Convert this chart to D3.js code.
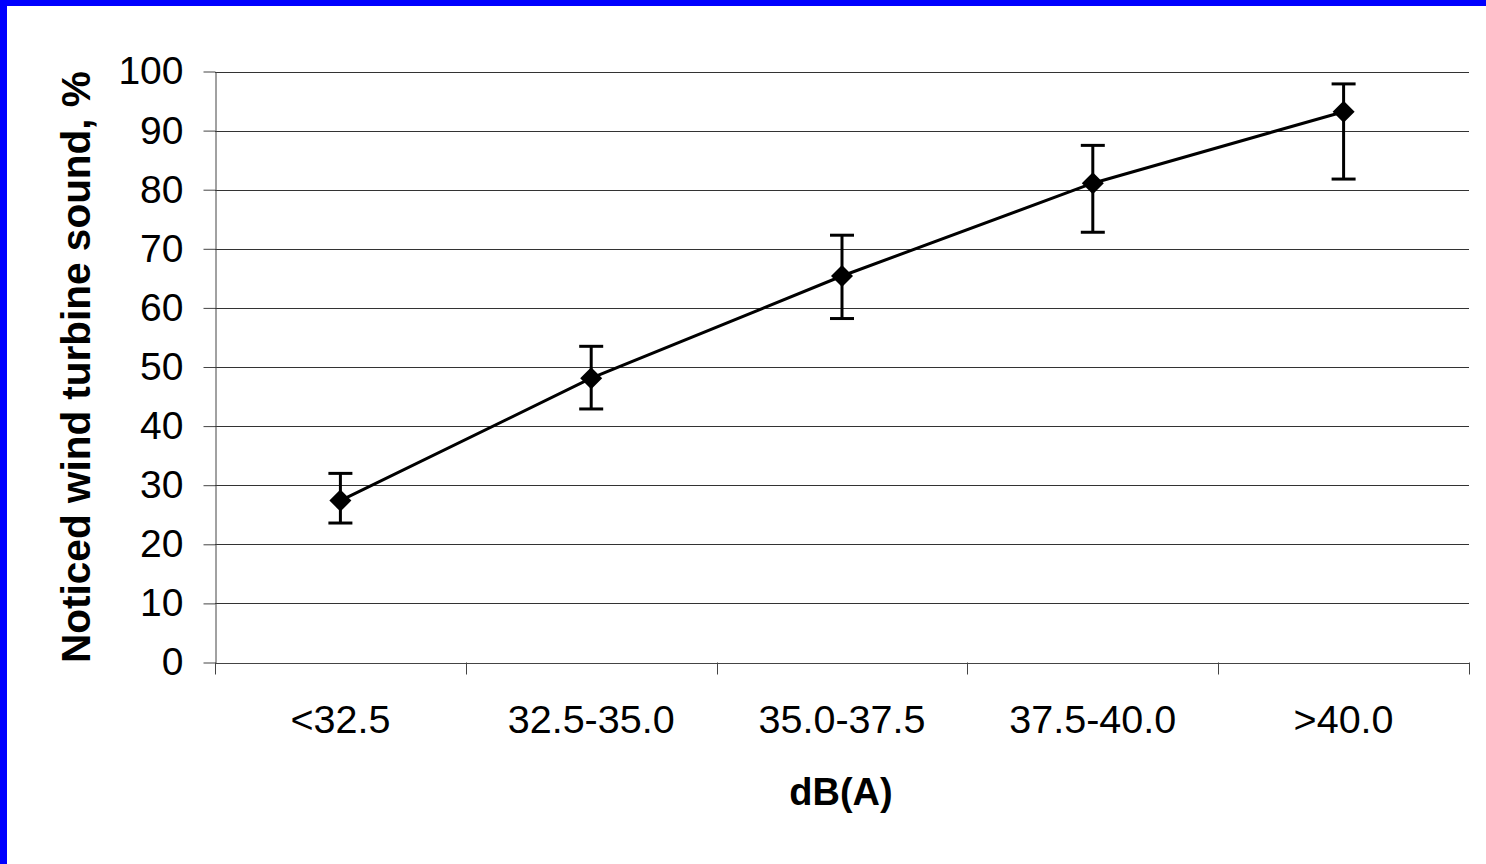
<!DOCTYPE html>
<html lang='en'>
	<head>
		<title>Noticed wind turbine sound</title>
		<script type='text/javascript' src='https://cdn.jsdelivr.net/npm/d3@7'></script>
		<style>
			body { margin: 0; background: #fff; }
			svg text { font-family: 'Liberation Sans', Arial, sans-serif; fill: #000; }
		</style>
	</head>
	<body>
		<svg id='svg' width='1486' height='864'></svg>
		<script type='text/javascript'>
			// data
			var categories = ['<32.5', '32.5-35.0', '35.0-37.5', '37.5-40.0', '>40.0'];
			var noticed = [27.4, 48.1, 65.4, 81.1, 93.2];
			var errHigh = [32.0, 53.5, 72.3, 87.5, 97.9];
			var errLow = [23.6, 42.9, 58.2, 72.8, 81.8];
			var yTicks = [0, 10, 20, 30, 40, 50, 60, 70, 80, 90, 100];

			{
				var svg = d3.select('#svg');

				// blue frame on left and top
				svg.append('rect').attr('x', 0).attr('y', 0).attr('width', 1486).attr('height', 864).attr('fill', '#fff');
				svg.append('rect').attr('x', 0).attr('y', 0).attr('width', 7).attr('height', 864).attr('fill', '#0000ff');
				svg.append('rect').attr('x', 0).attr('y', 0).attr('width', 1486).attr('height', 6).attr('fill', '#0000ff');

				var plotLeft = 215, plotRight = 1469, plotTop = 71.5, plotBottom = 662.5;
				var x = d3.scaleBand().domain(categories).range([plotLeft, plotRight]);
				var y = d3.scaleLinear().domain([0, 100]).range([plotBottom, plotTop]);

				// gridlines
				svg.append('g').selectAll('line').data(yTicks.slice(1)).enter().append('line')
					.attr('x1', plotLeft).attr('x2', plotRight)
					.attr('y1', d => Math.round(y(d)) + 0.5).attr('y2', d => Math.round(y(d)) + 0.5)
					.attr('stroke', '#333').attr('stroke-width', 1);

				// y axis
				var yAxis = svg.append('g').attr('transform', 'translate(' + (plotLeft + 0.5) + ',0)')
					.call(d3.axisLeft(y).tickValues(yTicks).tickSize(12).tickPadding(20).tickSizeOuter(0));
				yAxis.selectAll('path, line').attr('stroke', '#444');
				yAxis.selectAll('text').attr('font-size', 39).attr('font-family', "'Liberation Sans', Arial, sans-serif").attr('fill', '#000');

				// x axis line and boundary ticks
				var bounds = categories.map(d => x(d)).concat([plotRight]);
				svg.append('line').attr('x1', plotLeft).attr('x2', plotRight)
					.attr('y1', Math.round(plotBottom) + 0.5).attr('y2', Math.round(plotBottom) + 0.5)
					.attr('stroke', '#444');
				svg.append('g').selectAll('line').data(bounds).enter().append('line')
					.attr('x1', d => Math.round(d) + 0.5).attr('x2', d => Math.round(d) + 0.5)
					.attr('y1', plotBottom).attr('y2', plotBottom + 12)
					.attr('stroke', '#444');
				svg.append('g').selectAll('text').data(categories).enter().append('text')
					.attr('x', d => x(d) + x.bandwidth() / 2).attr('y', 733)
					.attr('text-anchor', 'middle').attr('font-size', 39.5)
					.text(d => d);

				// axis titles
				svg.append('text').attr('x', 841).attr('y', 805)
					.attr('text-anchor', 'middle').attr('font-size', 38).attr('font-weight', 'bold')
					.text('dB(A)');
				svg.append('text').attr('transform', 'translate(90,' + ((plotTop + plotBottom) / 2) + ') rotate(-90)')
					.attr('text-anchor', 'middle').attr('font-size', 40.5).attr('font-weight', 'bold')
					.text('Noticed wind turbine sound, %');

				var cx = (d, i) => x(categories[i]) + x.bandwidth() / 2;

				// error bars
				var eb = svg.append('g').selectAll('g').data(noticed).enter().append('g');
				eb.append('line').attr('x1', cx).attr('x2', cx)
					.attr('y1', (d, i) => y(errHigh[i])).attr('y2', (d, i) => y(errLow[i]))
					.attr('stroke', '#000').attr('stroke-width', 3);
				eb.append('line').attr('x1', (d, i) => cx(d, i) - 12).attr('x2', (d, i) => cx(d, i) + 12)
					.attr('y1', (d, i) => y(errHigh[i])).attr('y2', (d, i) => y(errHigh[i]))
					.attr('stroke', '#000').attr('stroke-width', 3);
				eb.append('line').attr('x1', (d, i) => cx(d, i) - 12).attr('x2', (d, i) => cx(d, i) + 12)
					.attr('y1', (d, i) => y(errLow[i])).attr('y2', (d, i) => y(errLow[i]))
					.attr('stroke', '#000').attr('stroke-width', 3);

				// line
				var line = d3.line().x((d, i) => cx(d, i)).y(d => y(d));
				svg.append('path').datum(noticed).attr('d', line)
					.attr('fill', 'none').attr('stroke', '#000').attr('stroke-width', 3);

				// diamond markers
				svg.append('g').selectAll('path').data(noticed).enter().append('path')
					.attr('d', 'M0,-11L11,0L0,11L-11,0Z')
					.attr('transform', (d, i) => 'translate(' + cx(d, i) + ',' + y(d) + ')')
					.attr('fill', '#000');
			}
		</script>
	</body>
</html>
